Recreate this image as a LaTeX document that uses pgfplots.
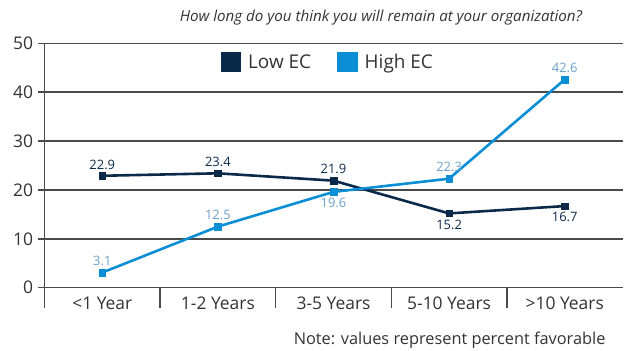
\documentclass[border=0pt]{standalone}
\usepackage{pgfplots}
\pgfplotsset{compat=1.18}
\usepackage{fontspec}
\setmainfont{Open Sans}
\definecolor{lowc}{HTML}{0B2A4A}
\definecolor{highc}{HTML}{0A8FD6}
\definecolor{highlab}{HTML}{6A9FC8}
\definecolor{txt}{HTML}{333333}
\definecolor{gridc}{HTML}{4A4A4A}
\tikzset{catlab/.style={text=txt, font=\fontsize{17.5}{17.5}\selectfont},
  lowlab/.style={text=lowc, font=\fontsize{13}{13}\selectfont},
  highlabs/.style={text=highlab, font=\fontsize{13}{13}\selectfont},
  gl/.style={gridc, line width=1.5bp}}
\begin{document}
\begin{tikzpicture}
\useasboundingbox (0,0) rectangle (624bp,-351bp);
\begin{axis}[
  scale only axis,
  width=578bp, height=244.4bp,
  anchor=south west, at={(44.5bp,-287.7bp)},
  xmin=-0.5, xmax=4.5, ymin=0, ymax=50,
  clip=false,
  axis line style={draw=none},
  tick style={draw=none},
  ytick={0,10,...,50},
  ymajorgrids,
  grid style={gridc, line width=1.5bp},
  yticklabel style={font=\fontsize{17.5}{17.5}\selectfont, text=txt, xshift=-8bp},
  /pgf/number format/assume math mode=true,
  xtick=\empty,
  legend style={draw=none, fill=none, at={(0.49,0.923)}, anchor=center,
    legend columns=2, font=\fontsize{19}{19}\selectfont\color{txt},
    /tikz/every odd column/.append style={column sep=5bp},
    /tikz/every even column/.append style={column sep=24bp}},
]
% y axis line and ticks
\draw[gl] (axis cs:-0.5,50) -- (axis cs:-0.5,0) -- ++(0pt,-20bp);
\draw[gl] (axis cs:-0.5,0) -- ++(-6bp,0pt);
\draw[gl] (axis cs:-0.5,10) -- ++(-6bp,0pt);
\draw[gl] (axis cs:-0.5,20) -- ++(-6bp,0pt);
\draw[gl] (axis cs:-0.5,30) -- ++(-6bp,0pt);
\draw[gl] (axis cs:-0.5,40) -- ++(-6bp,0pt);
\draw[gl] (axis cs:-0.5,50) -- ++(-6bp,0pt);
\draw[gl] (axis cs:0.5,0) -- ++(0pt,-20bp);
\draw[gl] (axis cs:1.5,0) -- ++(0pt,-20bp);
\draw[gl] (axis cs:2.5,0) -- ++(0pt,-20bp);
\draw[gl] (axis cs:3.5,0) -- ++(0pt,-20bp);
% category labels
\node[catlab] at ([yshift=-16bp]axis cs:0,0) {<1 Year};
\node[catlab] at ([yshift=-16bp]axis cs:1,0) {1-2 Years};
\node[catlab] at ([yshift=-16bp]axis cs:2,0) {3-5 Years};
\node[catlab] at ([yshift=-16bp]axis cs:3,0) {5-10 Years};
\node[catlab] at ([yshift=-16bp]axis cs:4,0) {>10 Years};
\addplot[lowc, line width=2.6bp, mark=square*, mark size=3.3bp, mark options={solid, line width=0.5bp},
  legend image code/.code={\fill[lowc] (0bp,-9bp) rectangle (18bp,9bp);}]
  table[x=x, y=y] {
x y
0 22.9
1 23.4
2 21.9
3 15.2
4 16.7
};
\addlegendentry{Low EC}
\addplot[highc, line width=2.6bp, mark=square*, mark size=3.3bp, mark options={solid, line width=0.5bp},
  legend image code/.code={\fill[highc] (0bp,-9bp) rectangle (18bp,9bp);}]
  table[x=x, y=y] {
x y
0 3.1
1 12.5
2 19.6
3 22.3
4 42.6
};
\addlegendentry{High EC}
% data labels
\node[lowlab, above=3bp] at (axis cs:0,22.9) {22.9};
\node[lowlab, above=3bp] at (axis cs:1,23.4) {23.4};
\node[lowlab, above=3bp] at (axis cs:2,21.9) {21.9};
\node[lowlab, below=3bp] at (axis cs:3,15.2) {15.2};
\node[lowlab, below=3bp] at (axis cs:4,16.7) {16.7};
\node[highlabs, above=3bp] at (axis cs:0,3.1) {3.1};
\node[highlabs, above=3bp] at (axis cs:1,12.5) {12.5};
\node[highlabs, below=3bp] at (axis cs:2,19.6) {19.6};
\node[highlabs, above=3bp] at (axis cs:3,22.3) {22.3};
\node[highlabs, above=3bp] at (axis cs:4,42.6) {42.6};
\end{axis}
\node[text=txt, font=\fontsize{15.2}{16}\selectfont\itshape] at (381bp,-18bp) {How long do you think you will remain at your organization?};
\node[text=txt, font=\fontsize{16.4}{17}\selectfont, anchor=east] at (609bp,-340bp) {Note: values represent percent favorable};
\end{tikzpicture}
\end{document}
